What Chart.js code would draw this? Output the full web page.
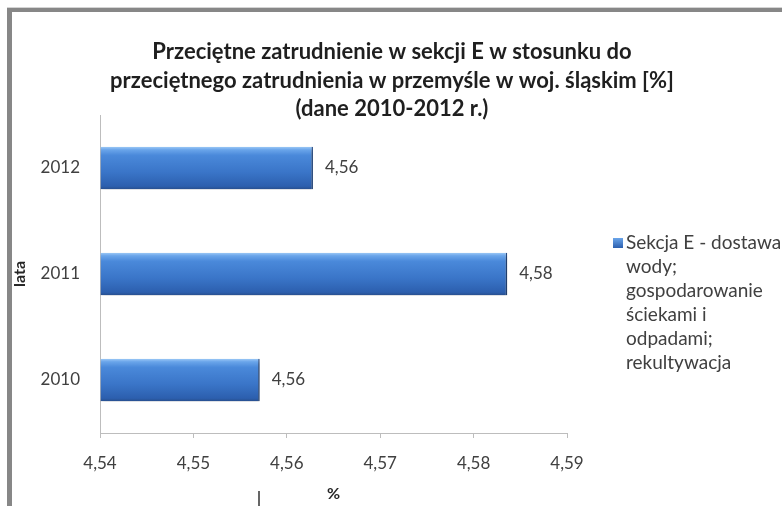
<!DOCTYPE html>
<html>
<head>
<meta charset="utf-8">
<script src="https://cdn.jsdelivr.net/npm/chart.js@4.4.1/dist/chart.umd.min.js"></script>
<style>
  html, body { margin: 0; padding: 0; background: #fff; }
  #wrap { position: relative; width: 782px; height: 506px; overflow: hidden; background: #fff; }
  #frame { position: absolute; left: 7px; top: 8px; right: -20px; bottom: -20px;
           border-top: 4px solid #878787; border-left: 5px solid #878787;
           box-shadow: 0 -1px 0 #d4d4d4; }
  #mark { position: absolute; left: 258px; top: 491px; width: 2px; height: 15px; background: #666; }
  canvas { position: absolute; left: 0; top: 0; }
</style>
</head>
<body>
<div id="wrap">
  <div id="frame"></div>
  <div id="mark"></div>
  <canvas id="c" width="782" height="506"></canvas>
</div>
<script>
// Employment share of section E in total industry, Silesian voivodeship
const years = ['2010', '2011', '2012'];
const shares = [4.5571, 4.5836, 4.5628];
const seriesName = 'Sekcja E - dostawa wody; gospodarowanie ściekami i odpadami; rekultywacja';
const titleLines = [
  'Przeciętne zatrudnienie w sekcji E w stosunku do',
  'przeciętnego zatrudnienia w przemyśle w woj. śląskim [%]',
  '(dane 2010-2012 r.)'
];
const xTicksMin = 4.54;
const xTicksMax = 4.59;
const xTicksStep = 0.01;
const xAxisTitle = '%';
const yAxisTitle = 'lata';

const FONT = 'Lato';
const BAR_FRACTION = 0.4;
const fmt = v => v.toFixed(2).replace('.', ',');

// vertical gradient per bar, built from the category scale
function barFill(ctx) {
  const chart = ctx.chart;
  const y = chart.scales && chart.scales.y;
  if (!y || ctx.type !== 'data' || !isFinite(y.getPixelForValue(0))) return '#3d7bd0';
  const c = y.getPixelForValue(ctx.dataIndex);
  const h = Math.abs(y.getPixelForValue(1) - y.getPixelForValue(0)) * BAR_FRACTION;
  const g = chart.ctx.createLinearGradient(0, c - h / 2, 0, c + h / 2);
  g.addColorStop(0, '#9cc8f6');
  g.addColorStop(0.07, '#6aa5ea');
  g.addColorStop(0.2, '#4a89da');
  g.addColorStop(0.6, '#3a75c8');
  g.addColorStop(0.93, '#2c5fae');
  g.addColorStop(1, '#284f8e');
  return g;
}

const barShadow = {
  id: 'barShadow',
  beforeDatasetsDraw(chart) {
    const c = chart.ctx;
    c.save();
    c.shadowColor = 'rgba(0,0,0,0.35)';
    c.shadowBlur = 4;
    c.shadowOffsetX = 1;
    c.shadowOffsetY = 3;
  },
  afterDatasetsDraw(chart) {
    chart.ctx.restore();
  }
};

const valueLabels = {
  id: 'valueLabels',
  afterDatasetsDraw(chart) {
    const c = chart.ctx;
    const meta = chart.getDatasetMeta(0);
    c.save();
    c.font = '17px ' + FONT;
    c.fillStyle = '#404040';
    c.textAlign = 'left';
    c.textBaseline = 'middle';
    meta.data.forEach((el, i) => {
      c.fillText(fmt(chart.data.datasets[0].data[i]), el.x + 12, el.y);
    });
    c.restore();
  }
};

const headTitle = {
  id: 'headTitle',
  afterDraw(chart) {
    const c = chart.ctx;
    c.save();
    c.font = 'bold 22px ' + FONT;
    c.fillStyle = '#1f1f1f';
    c.textAlign = 'center';
    c.textBaseline = 'middle';
    titleLines.forEach((t, i) => c.fillText(t, 392, 52 + i * 28.5));
    c.restore();
  }
};

const sideLegend = {
  id: 'sideLegend',
  afterDraw(chart) {
    const c = chart.ctx;
    const ds = chart.data.datasets[0];
    const left = 613, textX = 626, top = 243, lh = 24, maxW = 158;
    c.save();
    c.font = '19px ' + FONT;
    const words = ds.label.split(' ');
    const lines = [];
    let cur = '';
    words.forEach(w => {
      const t = cur ? cur + ' ' + w : w;
      if (cur && c.measureText(t).width > maxW) { lines.push(cur); cur = w; } else { cur = t; }
    });
    if (cur) lines.push(cur);
    const g = c.createLinearGradient(0, top - 5, 0, top + 5);
    g.addColorStop(0, '#6aa5ea');
    g.addColorStop(1, '#2c5fae');
    c.fillStyle = g;
    c.fillRect(left, top - 5, 10, 10);
    c.fillStyle = '#404040';
    c.textAlign = 'left';
    c.textBaseline = 'middle';
    lines.forEach((t, i) => c.fillText(t, textX, top + i * lh));
    c.restore();
  }
};

new Chart(document.getElementById('c'), {
  type: 'bar',
  data: {
    labels: years,
    datasets: [{
      label: seriesName,
      data: shares,
      base: xTicksMin,
      backgroundColor: barFill,
      borderColor: '#274d88',
      borderWidth: { top: 0, bottom: 0, left: 0, right: 1.5 },
      borderSkipped: false,
      categoryPercentage: 1,
      barPercentage: BAR_FRACTION
    }]
  },
  options: {
    indexAxis: 'y',
    responsive: false,
    animation: false,
    devicePixelRatio: 1,
    layout: { padding: { top: 115, right: 215, bottom: 0, left: 0 } },
    plugins: {
      legend: { display: false },
      title: { display: false },
      tooltip: { enabled: false }
    },
    scales: {
      x: {
        position: 'bottom',
        min: xTicksMin,
        max: xTicksMax,
        grid: { display: true, drawOnChartArea: false, drawTicks: true, tickLength: 5, color: '#bdbdbd' },
        border: { display: true, color: '#bdbdbd', width: 1 },
        ticks: {
          stepSize: xTicksStep,
          padding: 15,
          color: '#404040',
          font: { family: FONT, size: 17 },
          callback: v => fmt(v)
        },
        title: {
          display: true, text: xAxisTitle, color: '#262626',
          font: { family: FONT, size: 16, weight: 'bold' },
          padding: { top: 0, bottom: 3 }
        },
        afterFit(s) { s.height = 73; }
      },
      y: {
        reverse: true,
        grid: { display: false, drawTicks: false },
        border: { display: true, color: '#bdbdbd', width: 1 },
        ticks: { padding: 20, color: '#404040', font: { family: FONT, size: 17 } },
        title: {
          display: true, text: yAxisTitle, color: '#262626',
          font: { family: FONT, size: 16, weight: 'bold' },
          padding: { top: 10, bottom: 0 }
        },
        afterFit(s) { s.width = 100; }
      }
    }
  },
  plugins: [barShadow, valueLabels, headTitle, sideLegend]
});
</script>
</body>
</html>
